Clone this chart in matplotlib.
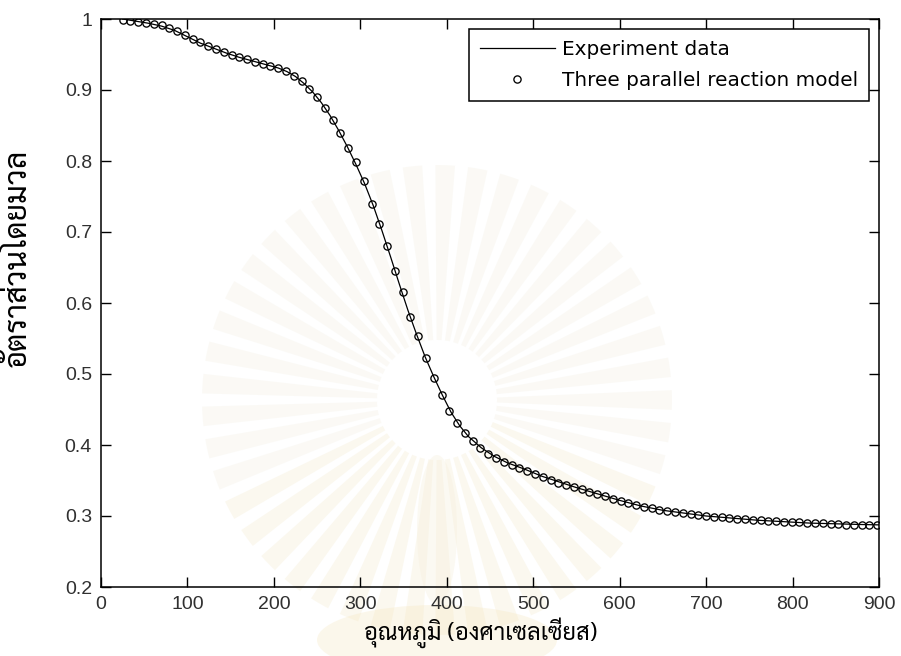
import matplotlib
matplotlib.use("Agg")
import matplotlib.pyplot as plt
from matplotlib.patches import Wedge, Circle, Ellipse
import numpy as np

# model points (three parallel reaction model)
model_temp = [25, 34, 43, 52, 61, 70, 79, 88, 97, 106, 115, 124, 133, 142, 151,
              160, 169, 178, 187, 196, 205, 214, 223, 232, 241, 250, 259, 268,
              277, 286, 295, 304, 313, 322, 331, 340, 349, 358, 367, 376, 385,
              394, 403, 412, 421, 430, 439, 448, 457, 466, 475, 484, 493, 502,
              511, 520, 529, 538, 547, 556, 565, 574, 583, 592, 601, 610, 619,
              628, 637, 646, 655, 664, 673, 682, 691, 700, 709, 718, 727, 736,
              745, 754, 763, 772, 781, 790, 799, 808, 817, 826, 835, 844, 853,
              862, 871, 880, 889, 898]
model_frac = [0.999, 0.997, 0.996, 0.994, 0.993, 0.991, 0.987, 0.983, 0.978,
              0.972, 0.967, 0.962, 0.958, 0.954, 0.949, 0.946, 0.943, 0.940,
              0.937, 0.934, 0.931, 0.927, 0.920, 0.912, 0.902, 0.890, 0.875,
              0.858, 0.839, 0.819, 0.798, 0.772, 0.739, 0.711, 0.680, 0.645,
              0.615, 0.580, 0.553, 0.522, 0.495, 0.470, 0.448, 0.431, 0.417,
              0.405, 0.396, 0.388, 0.382, 0.376, 0.372, 0.368, 0.363, 0.359,
              0.355, 0.351, 0.347, 0.344, 0.341, 0.338, 0.334, 0.331, 0.328,
              0.324, 0.321, 0.318, 0.316, 0.313, 0.311, 0.309, 0.307, 0.305,
              0.304, 0.303, 0.301, 0.300, 0.299, 0.298, 0.297, 0.296, 0.2955,
              0.295, 0.294, 0.293, 0.293, 0.292, 0.291, 0.291, 0.290, 0.290,
              0.290, 0.289, 0.289, 0.288, 0.288, 0.288, 0.288, 0.288]

# measured TGA curve
exp_temp = [25, 40, 55, 70, 85, 100, 115, 130, 145, 160, 175, 190, 205, 215,
            225, 235, 245, 255, 265, 275, 285, 295, 305, 315, 325, 335, 345,
            355, 365, 375, 385, 395, 405, 415, 425, 440, 455, 470, 490, 510,
            530, 550, 575, 600, 625, 650, 675, 700, 730, 760, 790, 820, 850,
            880, 900]
exp_frac = [1.000, 0.997, 0.994, 0.990, 0.984, 0.975, 0.966, 0.959, 0.952,
            0.946, 0.941, 0.936, 0.931, 0.926, 0.919, 0.909, 0.897, 0.882,
            0.864, 0.843, 0.820, 0.795, 0.768, 0.737, 0.702, 0.665, 0.627,
            0.590, 0.556, 0.524, 0.496, 0.470, 0.446, 0.427, 0.412, 0.396,
            0.384, 0.375, 0.366, 0.356, 0.348, 0.340, 0.331, 0.322, 0.314,
            0.308, 0.304, 0.300, 0.297, 0.294, 0.292, 0.290, 0.289, 0.288,
            0.2875]

xticks = [0, 100, 200, 300, 400, 500, 600, 700, 800, 900]
yticks = [0.2, 0.3, 0.4, 0.5, 0.6, 0.7, 0.8, 0.9, 1.0]
ytick_labels = ["0.2", "0.3", "0.4", "0.5", "0.6", "0.7", "0.8", "0.9", "1"]

thai_font = ["Sarabun", "Athiti", "DejaVu Sans"]
plt.rcParams["font.family"] = ["DejaVu Sans"]

fig = plt.figure(figsize=(9.01, 6.56), dpi=100)
W, H = 901.0, 656.0

# faint university seal behind the plot
bg = fig.add_axes([0, 0, 1, 1], zorder=-5)
bg.set_xlim(0, W)
bg.set_ylim(H, 0)
bg.axis("off")
seal = (437, 400)
for ang in np.arange(0, 360, 8):
    lower = 20 < ang < 160
    col = "#f6efd8" if lower else "#f5f2e8"
    bg.add_patch(Wedge(seal, 235, ang - 2.4, ang + 2.4, width=175,
                       facecolor=col, edgecolor="none", alpha=0.4))
bg.add_patch(Circle(seal, 58, facecolor="white", edgecolor="none"))
bg.add_patch(Ellipse((437, 640), 240, 70, facecolor="#f5e6bd",
                     edgecolor="none", alpha=0.3))
bg.add_patch(Ellipse((437, 530), 40, 150, facecolor="#f6efdb",
                     edgecolor="none", alpha=0.35))

ax = fig.add_axes([101 / W, 1 - 587 / H, 778 / W, 568 / H])
ax.patch.set_alpha(0)

ax.plot(exp_temp, exp_frac, color="black", lw=0.9, label="Experiment data")
ax.plot(model_temp, model_frac, linestyle="none", marker="o", markersize=5.2,
        markerfacecolor="none", markeredgecolor="black", markeredgewidth=0.95,
        label="Three parallel reaction model")

ax.set_xlim(0, 900)
ax.set_ylim(0.2, 1.0)
ax.set_xticks(xticks)
ax.set_yticks(yticks)
ax.set_yticklabels(ytick_labels)
ax.tick_params(direction="in", length=7, width=1, top=True, right=True,
               labelsize=14, labelcolor="#303030", pad=6.5)
for lbl in ax.get_xticklabels() + ax.get_yticklabels():
    lbl.set_family("Liberation Sans")
for s in ax.spines.values():
    s.set_linewidth(1.1)

leg = ax.legend(loc="upper right", bbox_to_anchor=(869 / W, 1 - 29 / H),
                bbox_transform=fig.transFigure, fontsize=14.4, frameon=True,
                fancybox=False, framealpha=1, edgecolor="black",
                handlelength=3.75, handletextpad=0.35, labelspacing=0.6,
                borderpad=0.55, borderaxespad=0)
leg.get_frame().set_linewidth(1.1)

fig.text(481 / W, 1 - 633 / H, "อุณหภูมิ (องศาเซลเซียส)", family=thai_font,
         fontsize=17, ha="center", va="center")
fig.text(18 / W, 1 - 258 / H, "อัตราส่วนโดยมวล", family=thai_font,
         fontsize=22, ha="center", va="center", rotation=90)

fig.savefig("out.png", dpi=100)
